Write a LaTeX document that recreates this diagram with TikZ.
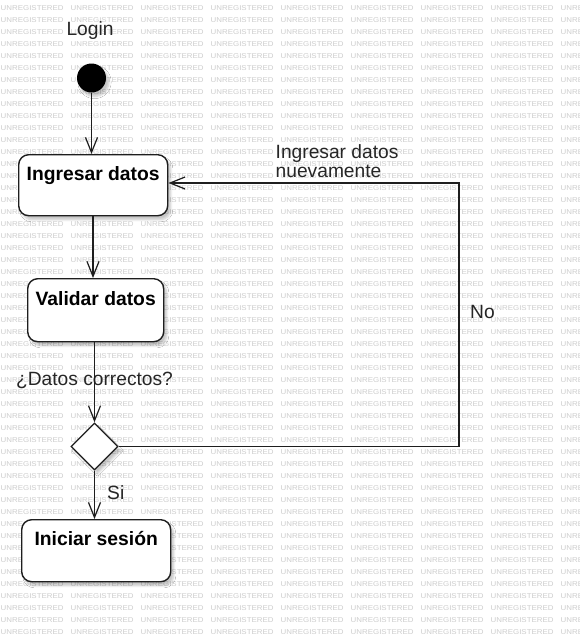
\documentclass[tikz,border=0pt]{standalone}
\usepackage{fontspec}
\setmainfont{Liberation Sans}
\usetikzlibrary{arrows.meta,shapes.geometric,shadows.blur}
\definecolor{wm}{RGB}{205,205,205}
\definecolor{ln}{RGB}{30,30,30}
\tikzset{
  wmark/.style={text=wm, font=\fontsize{7}{7}\selectfont, anchor=west, inner sep=0pt, xscale=1.13},
  shade/.style={blur shadow={shadow xshift=3pt, shadow yshift=-4pt, shadow blur steps=6, shadow opacity=22}},
  actbox/.style={draw=ln, line width=1.4pt, rounded corners=10pt, fill=white, shade, inner sep=0pt,
    font=\bfseries\fontsize{19.3}{19.3}\selectfont, anchor=north west},
  lbl/.style={font=\fontsize{19.2}{19.2}\selectfont, inner sep=0pt, text=black!85},
  conn/.style={draw=ln, line width=1.2pt, -{Straight Barb[length=15pt,width=12pt,line width=1.2pt]}},
  plain/.style={draw=ln, line width=1.2pt}
}
\begin{document}
\begin{tikzpicture}[x=1pt,y=-1pt]
\useasboundingbox (0,0) rectangle (579,640);
\fill[white] (0,0) rectangle (579,640);
% watermark
\foreach \r in {0,...,53}{
  \foreach \c in {0,...,8}{
    \node[wmark] at ({0.5+70*\c},{8.5+12*\r}) {UNREGISTERED};
  }
}
% initial node
\node[lbl] (login) at (90,31) {Login};
\node[circle, fill=black, minimum size=29pt, inner sep=0pt, shade] (init) at (91.5,78) {};
% activity boxes
\node[actbox, minimum width=149pt, text height=26pt, text depth=35pt, align=center] (ing) at (18,154) {Ingresar datos};
\node[actbox, minimum width=136pt, text height=27pt, text depth=36pt, align=center] (val) at (27,278) {Validar datos};
\node[actbox, minimum width=149pt, text height=26pt, text depth=36pt, align=center] (ini) at (21,519) {Iniciar sesión};
% decision
\node[diamond, draw=ln, line width=1.3pt, fill=white, shade, minimum width=47pt, minimum height=47pt, inner sep=0pt, aspect=1] (dec) at (94.5,446.5) {};
% labels
\node[lbl] (q) at (94.5,380) {¿Datos correctos?};
\node[lbl, anchor=west] (si) at (107,493) {Si};
\node[lbl, anchor=west] (no) at (470,312) {No};
\node[lbl, anchor=south west, align=left, font=\fontsize{19.2}{19.5}\selectfont] (again) at (275.5,178) {Ingresar datos\\nuevamente};
% connectors
\coordinate (c1) at (459,446.5);
\coordinate (c2) at (459,183);
\draw[conn] (init.south) -- (init.south |- ing.north);
\draw[conn] ([xshift=1.5pt]init.south |- ing.south) -- ([xshift=1.5pt]init.south |- val.north);
\draw[conn] (dec.north |- val.south) -- (dec.north);
\draw[conn] (dec.south) -- (dec.south |- ini.north);
\draw[plain, -{Straight Barb[length=15pt,width=12pt,line width=1.2pt]}] (dec.east) -- (c1) -- (c2) -- (ing.east |- c2);
\end{tikzpicture}
\end{document}
